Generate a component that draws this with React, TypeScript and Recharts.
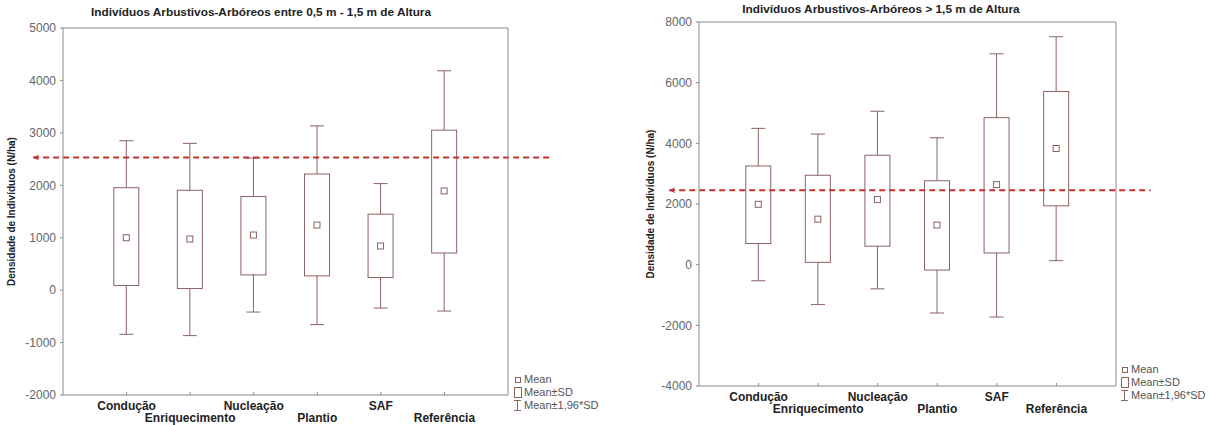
import React from 'react';
import { ComposedChart, Bar, XAxis, YAxis, ReferenceLine } from 'recharts';

const categories = ['Condução', 'Enriquecimento', 'Nucleação', 'Plantio', 'SAF', 'Referência'];
const legendLabels = ['Mean', 'Mean±SD', 'Mean±1,96*SD'];

// 0,5 m - 1,5 m
const smallMean = [1000, 975, 1051, 1241, 842, 1892];
const smallSdLow = [89, 32, 291, 272, 241, 709];
const smallSdHigh = [1954, 1905, 1785, 2215, 1449, 3051];
const smallCiLow = [-842, -867, -418, -658, -342, -399];
const smallCiHigh = [2850, 2800, 2519, 3133, 2032, 4184];
const smallRef = 2530;
const smallTicks = [-2000, -1000, 0, 1000, 2000, 3000, 4000, 5000];

// > 1,5 m
const tallMean = [1990, 1500, 2147, 1306, 2640, 3830];
const tallSdLow = [697, 77, 609, -177, 387, 1940];
const tallSdHigh = [3254, 2947, 3608, 2767, 4848, 5711];
const tallCiLow = [-531, -1317, -797, -1594, -1727, 133];
const tallCiHigh = [4494, 4305, 5058, 4184, 6951, 7515];
const tallRef = 2450;
const tallTicks = [-4000, -2000, 0, 2000, 4000, 6000, 8000];

const catTicks = [1, 2, 3, 4, 5, 6];

const FONT = '"Liberation Sans", Arial, sans-serif';
const BOX = '#8c6262';
const FRAME = '#8a8a8a';
const REF = '#c4302c';
const Y_TITLE = 'Densidade de Indivíduos (N/ha)';

const buildRows = (mean: number[], sdLow: number[], sdHigh: number[], ciLow: number[], ciHigh: number[]) =>
  categories.map((name, i) => ({
    pos: i + 1,
    name,
    mean: mean[i],
    sdLow: sdLow[i],
    sdHigh: sdHigh[i],
    ciLow: ciLow[i],
    ciHigh: ciHigh[i],
  }));

const BoxShape = (props: any) => {
  const { x, y, width, height, payload } = props;
  if (!payload) return null;
  const { ciLow, ciHigh, sdLow, sdHigh, mean } = payload;
  const top = Math.min(y, y + height);
  const h = Math.abs(height);
  const toY = (v: number) => top + ((ciHigh - v) / (ciHigh - ciLow)) * h;
  const cx = x + width / 2;
  const cap = width * 0.28;
  const yTop = toY(ciHigh);
  const yBoxT = toY(sdHigh);
  const yBoxB = toY(sdLow);
  const yBot = toY(ciLow);
  const yMean = toY(mean);
  return (
    <g stroke={BOX} strokeWidth={1} fill="none">
      <line x1={cx} x2={cx} y1={yTop} y2={yBoxT} />
      <line x1={cx - cap} x2={cx + cap} y1={yTop} y2={yTop} />
      <line x1={cx} x2={cx} y1={yBoxB} y2={yBot} />
      <line x1={cx - cap} x2={cx + cap} y1={yBot} y2={yBot} />
      <rect x={x} y={yBoxT} width={width} height={yBoxB - yBoxT} />
      <rect x={cx - 3} y={yMean - 3} width={6} height={6} />
    </g>
  );
};

const CategoryTick = (props: any) => {
  const { x, y, payload } = props;
  const i = payload.value - 1;
  return (
    <g>
      <line x1={x} x2={x} y1={y} y2={y - 3} stroke={FRAME} />
      <text
        x={x}
        y={y + (i % 2 ? 26.5 : 15)}
        textAnchor="middle"
        fontSize={12}
        fontWeight="bold"
        fill="#222"
        fontFamily={FONT}
      >
        {categories[i]}
      </text>
    </g>
  );
};

const ArrowLine = (props: any) => {
  const { x1, y1, x2, y2 } = props;
  const left = Math.min(x1, x2);
  const ly = x1 < x2 ? y1 : y2;
  return (
    <g>
      <line x1={x1} y1={y1} x2={x2} y2={y2} stroke={REF} strokeWidth={2} strokeDasharray="6 4" />
      <path d={`M${left},${ly} L${left + 6},${ly - 3} L${left + 4},${ly} L${left + 6},${ly + 3} Z`} fill={REF} />
    </g>
  );
};

const yLabel = (dx: number) => (props: any) => {
  const { viewBox } = props;
  const cx = viewBox.x + dx;
  const cy = viewBox.y + viewBox.height / 2;
  return (
    <text
      x={cx}
      y={cy}
      transform={`rotate(-90 ${cx} ${cy})`}
      textAnchor="middle"
      dominantBaseline="central"
      fontSize={10}
      fontWeight="bold"
      fill="#222"
      fontFamily={FONT}
    >
      {Y_TITLE}
    </text>
  );
};

const LegendBox = ({ left, top }: { left: number; top: number }) => (
  <div style={{ position: 'absolute', left, top, fontFamily: FONT, fontSize: 11, color: '#555', lineHeight: '13px' }}>
    {legendLabels.map((label, i) => (
      <div key={label} style={{ display: 'flex', alignItems: 'center', height: 13 }}>
        <svg width={10} height={13} style={{ display: 'block' }}>
          <g stroke={BOX} fill="none" strokeWidth={1}>
            {i === 0 && <rect x={2.5} y={4.5} width={5} height={5} />}
            {i === 1 && <rect x={1.5} y={1.5} width={7} height={10} />}
            {i === 2 && (
              <path d="M1,1.5 H8 M4.5,1.5 V11.5 M1,11.5 H8" />
            )}
          </g>
        </svg>
        <span style={{ marginLeft: 1, whiteSpace: 'nowrap' }}>{label}</span>
      </div>
    ))}
  </div>
);

type ChartProps = {
  rows: ReturnType<typeof buildRows>;
  width: number;
  ticks: number[];
  refValue: number;
  refFrom: number;
  refTo: number;
  margin: { top: number; right: number; bottom: number; left: number };
  yWidth: number;
  labelDx: number;
};

const BoxChart = ({ rows, width, ticks, refValue, refFrom, refTo, margin, yWidth, labelDx }: ChartProps) => {
  const domain: [number, number] = [ticks[0], ticks[ticks.length - 1]];
  return (
    <ComposedChart width={width} height={425} data={rows} margin={margin}>
      <XAxis
        dataKey="pos"
        type="number"
        domain={[0, 7]}
        ticks={catTicks}
        interval={0}
        height={30}
        tickSize={0}
        tickMargin={0}
        tickLine={false}
        axisLine={{ stroke: FRAME }}
        tick={<CategoryTick />}
      />
      <XAxis
        xAxisId="top"
        orientation="top"
        type="number"
        domain={[0, 7]}
        ticks={catTicks}
        height={1}
        mirror
        tick={false}
        tickSize={3}
        tickLine={{ stroke: FRAME }}
        axisLine={{ stroke: FRAME }}
      />
      <YAxis
        type="number"
        domain={domain}
        ticks={ticks}
        interval={0}
        width={yWidth}
        tickSize={3}
        tickMargin={4}
        tickLine={{ stroke: FRAME }}
        axisLine={{ stroke: FRAME }}
        tick={{ fill: '#666', fontSize: 12, fontFamily: FONT }}
        label={{ content: yLabel(labelDx) }}
      />
      <YAxis
        yAxisId="right"
        orientation="right"
        type="number"
        domain={domain}
        ticks={ticks}
        width={1}
        mirror
        tick={false}
        tickSize={3}
        tickLine={{ stroke: FRAME }}
        axisLine={{ stroke: FRAME }}
      />
      <Bar
        dataKey={(d: any) => [d.ciLow, d.ciHigh]}
        barSize={25}
        shape={<BoxShape />}
        isAnimationActive={false}
      />
      <ReferenceLine
        segment={[
          { x: refFrom, y: refValue },
          { x: refTo, y: refValue },
        ]}
        ifOverflow="visible"
        shape={<ArrowLine />}
      />
    </ComposedChart>
  );
};

const smallRows = buildRows(smallMean, smallSdLow, smallSdHigh, smallCiLow, smallCiHigh);
const tallRows = buildRows(tallMean, tallSdLow, tallSdHigh, tallCiLow, tallCiHigh);

const titleStyle: React.CSSProperties = {
  position: 'absolute',
  fontFamily: FONT,
  fontSize: 11.8,
  fontWeight: 'bold',
  color: '#222',
  textAlign: 'center',
  whiteSpace: 'nowrap',
  lineHeight: '13px',
};

export default function App() {
  return (
    <div style={{ position: 'absolute', left: 0, top: 0, width: 1209, height: 425, background: '#fff', overflow: 'hidden' }}>
      <div style={{ position: 'absolute', left: 0, top: 0 }}>
        <BoxChart
          rows={smallRows}
          width={610}
          ticks={smallTicks}
          refValue={smallRef}
          refFrom={-0.47}
          refTo={7.71}
          margin={{ top: 28, right: 102, bottom: 0, left: 0 }}
          yWidth={63}
          labelDx={11}
        />
      </div>
      <div style={{ position: 'absolute', left: 610, top: 0 }}>
        <BoxChart
          rows={tallRows}
          width={599}
          ticks={tallTicks}
          refValue={tallRef}
          refFrom={-0.5}
          refTo={7.58}
          margin={{ top: 22, right: 93, bottom: 9, left: 0 }}
          yWidth={89}
          labelDx={40}
        />
      </div>
      <div style={{ ...titleStyle, left: 61, width: 400, top: 6 }}>
        Indivíduos Arbustivos-Arbóreos entre 0,5 m - 1,5 m de Altura
      </div>
      <div style={{ ...titleStyle, left: 681, width: 400, top: 3 }}>
        Indivíduos Arbustivos-Arbóreos &gt; 1,5 m de Altura
      </div>
      <LegendBox left={513} top={373} />
      <LegendBox left={1120} top={363} />
    </div>
  );
}
